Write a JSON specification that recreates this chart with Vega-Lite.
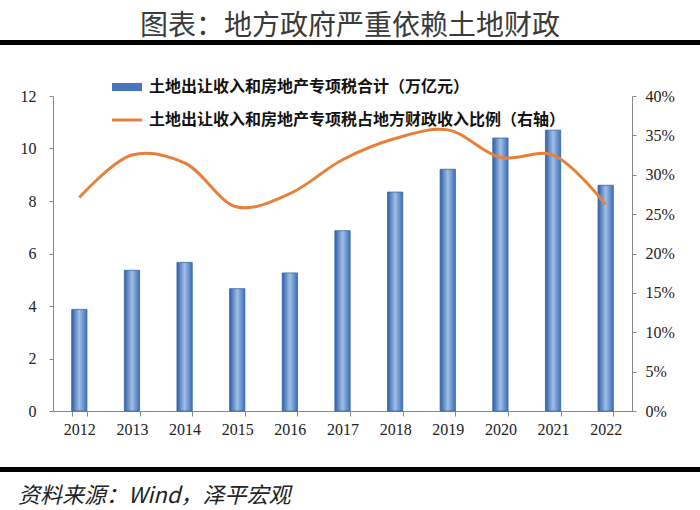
{
  "$schema": "https://vega.github.io/schema/vega-lite/v6.json",
  "background": "white",
  "padding": {"top": 12, "left": 0, "right": 0, "bottom": 0},
  "config": {"view": {"stroke": null}},
  "spacing": 24,
  "resolve": {"legend": {"color": "independent"}},
  "vconcat": [
    {
      "width": 700,
      "height": 5,
      "data": {"values": [{}]},
      "mark": {"type": "text", "text": ""},
      "encoding": {},
      "view": {"fill": "black", "stroke": null},
      "title": {
        "text": "图表：地方政府严重依赖土地财政",
        "font": "Noto Sans CJK SC",
        "fontSize": 28,
        "fontWeight": "normal",
        "color": "#3a3a3a",
        "anchor": "middle",
        "offset": -4
      }
    },
    {
      "spacing": 0,
      "bounds": "flush",
      "resolve": {"legend": {"color": "independent"}},
      "hconcat": [
        {
          "width": 53,
          "height": 343,
          "data": {"values": [{}]},
          "mark": {"type": "text", "text": ""},
          "encoding": {}
        },
        {
          "width": 579,
          "height": 315,
          "data": {
            "values": [
              {"year": "2012", "amount": 3.87, "ratio": 0.271},
              {"year": "2013", "amount": 5.36, "ratio": 0.325},
              {"year": "2014", "amount": 5.66, "ratio": 0.315},
              {"year": "2015", "amount": 4.66, "ratio": 0.259},
              {"year": "2016", "amount": 5.26, "ratio": 0.276},
              {"year": "2017", "amount": 6.87, "ratio": 0.319},
              {"year": "2018", "amount": 8.34, "ratio": 0.346},
              {"year": "2019", "amount": 9.21, "ratio": 0.357},
              {"year": "2020", "amount": 10.4, "ratio": 0.322},
              {"year": "2021", "amount": 10.7, "ratio": 0.325},
              {"year": "2022", "amount": 8.6, "ratio": 0.262}
            ]
          },
          "encoding": {
            "x": {
              "field": "year",
              "type": "ordinal",
              "scale": {"paddingInner": 0.71, "paddingOuter": 0.355},
              "axis": {
                "title": null,
                "labelAngle": 0,
                "tickBand": "extent",
                "labelFont": "Liberation Serif",
                "labelFontSize": 16,
                "labelColor": "#222222",
                "labelPadding": 5,
                "tickSize": 5,
                "domainColor": "#888888",
                "tickColor": "#888888",
                "grid": false
              }
            }
          },
          "layer": [
            {
              "mark": {"type": "bar", "stroke": "#3465a8", "strokeWidth": 0.8},
              "encoding": {
                "y": {
                  "field": "amount",
                  "type": "quantitative",
                  "scale": {"domain": [0, 12], "nice": false},
                  "axis": {
                    "title": null,
                    "values": [0, 2, 4, 6, 8, 10, 12],
                    "labelFont": "Liberation Serif",
                    "labelFontSize": 16,
                    "labelColor": "#222222",
                    "labelPadding": 13,
                    "tickSize": 4,
                    "domainColor": "#888888",
                    "tickColor": "#888888",
                    "grid": false
                  }
                },
                "fill": {
                  "value": {
                    "gradient": "linear",
                    "x1": 0, "y1": 0, "x2": 1, "y2": 0,
                    "stops": [
                      {"offset": 0, "color": "#2d5fa7"},
                      {"offset": 0.5, "color": "#a2bee5"},
                      {"offset": 1, "color": "#3b70ba"}
                    ]
                  }
                }
              }
            },
            {
              "mark": {"type": "line", "interpolate": "catmull-rom", "strokeWidth": 3},
              "encoding": {
                "y": {
                  "field": "ratio",
                  "type": "quantitative",
                  "scale": {"domain": [0, 0.4], "nice": false},
                  "axis": {
                    "orient": "right",
                    "title": null,
                    "format": ".0%",
                    "values": [0, 0.05, 0.1, 0.15, 0.2, 0.25, 0.3, 0.35, 0.4],
                    "labelFont": "Liberation Serif",
                    "labelFontSize": 16,
                    "labelColor": "#222222",
                    "labelPadding": 9,
                    "tickSize": 4,
                    "domainColor": "#888888",
                    "tickColor": "#888888",
                    "grid": false
                  }
                },
                "color": {
                  "datum": "土地出让收入和房地产专项税占地方财政收入比例（右轴）",
                  "type": "nominal",
                  "scale": {
                    "domain": ["土地出让收入和房地产专项税合计（万亿元）", "土地出让收入和房地产专项税占地方财政收入比例（右轴）"],
                    "range": ["#4677bd", "#e6803a"]
                  },
                  "legend": {
                    "orient": "none",
                    "legendX": 59,
                    "legendY": -24,
                    "title": null,
                    "symbolSize": 900,
                    "symbolType": "square",
                    "labelFont": "Noto Sans CJK SC",
                    "labelFontSize": 16,
                    "labelFontWeight": "bold",
                    "labelColor": "#111111",
                    "labelLimit": 700,
                    "labelOffset": 7,
                    "rowPadding": 10,
                    "encode": {
                      "symbols": {
                        "update": {
                          "shape": {"signal": "datum.value === '土地出让收入和房地产专项税合计（万亿元）' ? 'M-1,-0.27H1V0.27H-1Z' : 'M-1,-0.1H1V0.1H-1Z'"},
                          "fill": {"signal": "datum.value === '土地出让收入和房地产专项税合计（万亿元）' ? '#4677bd' : '#e6803a'"},
                          "stroke": {"value": "transparent"},
                          "strokeWidth": {"value": 0},
                          "opacity": {"value": 1},
                          "fillOpacity": {"value": 1}
                        }
                      }
                    }
                  }
                }
              }
            }
          ],
          "resolve": {"scale": {"y": "independent"}}
        }
      ]
    },
    {
      "width": 700,
      "height": 5,
      "data": {"values": [{}]},
      "mark": {"type": "text", "text": ""},
      "encoding": {},
      "view": {"fill": "black", "stroke": null},
      "title": {
        "text": "资料来源：Wind，泽平宏观",
        "orient": "bottom",
        "anchor": "start",
        "font": "Noto Sans CJK SC",
        "fontSize": 22,
        "fontStyle": "italic",
        "fontWeight": "normal",
        "color": "#222222",
        "offset": 11,
        "dx": 18
      }
    }
  ]
}
